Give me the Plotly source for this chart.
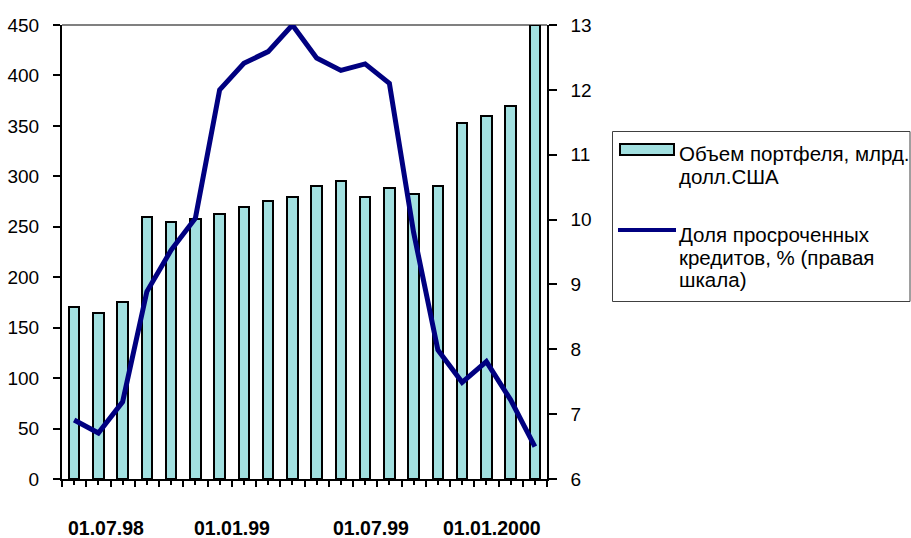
import plotly.graph_objects as go

# ---- data ----
portfolio = [170, 165, 175, 260, 255, 258, 263, 270, 276, 280,
             290, 295, 280, 288, 282, 290, 353, 360, 370, 450]
overdue_share = [6.91, 6.71, 7.19, 8.89, 9.53, 10.02, 12.0, 12.41, 12.59, 13.0,
                 12.49, 12.30, 12.40, 12.1, 9.8, 7.99, 7.49, 7.81, 7.22, 6.5]
date_labels = ["01.07.98", "01.01.99", "01.07.99", "01.01.2000"]
date_label_pos = [1.31, 6.53, 12.24, 17.25]
legend_lines_bar = ["Объем портфеля, млрд.", "долл.США"]
legend_lines_line = ["Доля просроченных", "кредитов, % (правая", "шкала)"]

x_idx = list(range(len(portfolio)))

BAR_COLOR = "#a2e0e0"
LINE_COLOR = "#000080"
FONT = "Liberation Sans, Arial, sans-serif"

W, H = 911, 538
L, R, T, B = 62, 364, 25, 59
PW = W - L - R
PH = H - T - B


def px(x):
    return (x - L) / PW


def py(y):
    return (H - B - y) / PH


fig = go.Figure()
fig.add_trace(go.Bar(
    x=x_idx, y=portfolio, width=0.44,
    marker=dict(color=BAR_COLOR, line=dict(color="black", width=2)),
    name="Объем портфеля, млрд. долл.США", showlegend=False,
    yaxis="y"))
fig.add_trace(go.Scatter(
    x=x_idx, y=overdue_share, mode="lines",
    line=dict(color=LINE_COLOR, width=5),
    name="Доля просроченных кредитов, % (правая шкала)", showlegend=False,
    yaxis="y2", cliponaxis=False))

fig.update_layout(
    width=W, height=H,
    margin=dict(l=L, r=R, t=T, b=B, pad=0),
    paper_bgcolor="white", plot_bgcolor="white",
    font=dict(family=FONT, size=19, color="black"),
    bargap=0,
    xaxis=dict(
        range=[-0.5, len(portfolio) - 0.5],
        tickmode="linear", tick0=-0.5, dtick=1,
        ticks="outside", ticklen=6, tickcolor="black", tickwidth=1.5,
        showticklabels=False,
        minor=dict(tickmode="linear", tick0=0, dtick=1, ticks="outside",
                   ticklen=4, tickcolor="black", tickwidth=1.5, showgrid=False),
        showgrid=False, zeroline=False, automargin=False,
        showline=True, linecolor="black", linewidth=1.5,
    ),
    yaxis=dict(
        range=[0, 450], dtick=50, tick0=0,
        ticks="outside", ticklen=7, tickcolor="black", tickwidth=1.5,
        showgrid=False, zeroline=False, automargin=False,
        showline=True, linecolor="black", linewidth=2,
        ticklabelstandoff=10,
        tickfont=dict(size=19),
    ),
    yaxis2=dict(
        range=[6, 13], dtick=1, tick0=6,
        overlaying="y", side="right",
        ticks="outside", ticklen=8, tickcolor="black", tickwidth=1.5,
        showgrid=False, zeroline=False, automargin=False,
        showline=True, linecolor="black", linewidth=1.5,
        ticklabelstandoff=10,
        tickfont=dict(size=19),
    ),
)

# top border line (gray)
fig.add_shape(type="line", xref="paper", yref="paper", x0=0, x1=1, y0=1, y1=1,
              line=dict(color="#808080", width=2), layer="below")

# date labels under the axis
for lab, pos in zip(date_labels, date_label_pos):
    fig.add_annotation(x=pos, y=py(528), xref="x", yref="paper", text=lab,
                       showarrow=False, xanchor="center", yanchor="middle",
                       font=dict(family=FONT, size=19.5, color="black",
                                 weight="bold"))

# ---- custom legend ----
fig.add_shape(type="rect", xref="paper", yref="paper",
              x0=px(612.5), x1=px(910), y0=py(301.5), y1=py(131.5),
              line=dict(color="#404040", width=1), fillcolor="white")
fig.add_shape(type="rect", xref="paper", yref="paper",
              x0=px(620), x1=px(674), y0=py(155), y1=py(144),
              line=dict(color="black", width=2), fillcolor=BAR_COLOR)
fig.add_shape(type="line", xref="paper", yref="paper",
              x0=px(618), x1=px(676), y0=py(230), y1=py(230),
              line=dict(color=LINE_COLOR, width=4))

for text, yc in zip(legend_lines_bar + legend_lines_line,
                    [153, 176, 234, 257, 279]):
    fig.add_annotation(x=px(677), y=py(yc), xref="paper", yref="paper",
                       text=text, showarrow=False, align="left",
                       xanchor="left", yanchor="middle",
                       font=dict(family=FONT, size=20.5, color="black"))

fig.write_html("out.html",
               config={"displayModeBar": False},
               post_script="document.body.style.margin='0';"
                           "document.body.style.padding='0';")
